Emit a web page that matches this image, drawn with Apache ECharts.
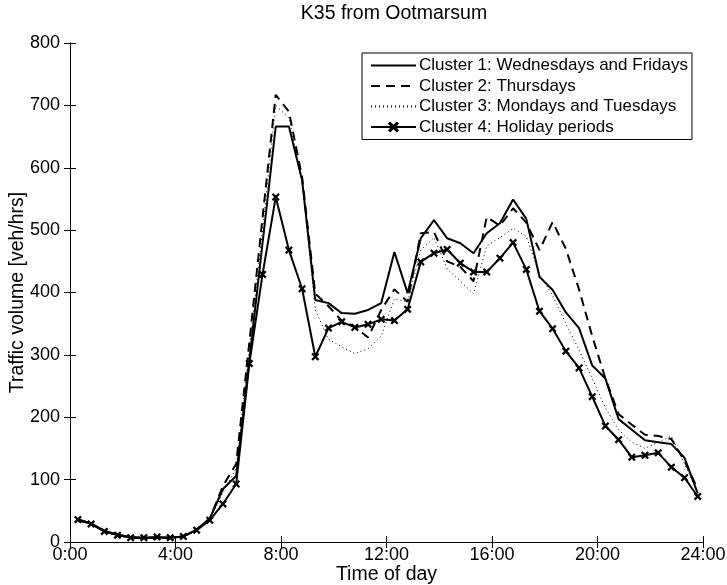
<!DOCTYPE html>
<html>
<head>
<meta charset="utf-8">
<script src="https://cdn.jsdelivr.net/npm/echarts@6/dist/echarts.min.js"></script>
<style>html,body{margin:0;padding:0;background:#fff}#chart{width:727px;height:585px}</style>
</head>
<body>
<div id="chart"></div>
<script>
// sample times (hours)
const times = [0.3,0.8,1.3,1.8,2.3,2.8,3.3,3.8,4.3,4.8,5.3,5.8,6.3,6.8,7.3,7.8,8.3,8.8,9.3,9.8,10.3,10.8,11.3,11.8,
  12.3,12.8,13.3,13.8,14.3,14.8,15.3,15.8,16.3,16.8,17.3,17.8,18.3,18.8,19.3,19.8,20.3,20.8,21.3,21.8,22.3,22.8,23.3,23.8];
const xTickLabels = ['0:00','4:00','8:00','12:00','16:00','20:00','24:00'];
const seriesNames = ['Cluster 1: Wednesdays and Fridays','Cluster 2: Thursdays','Cluster 3: Mondays and Tuesdays','Cluster 4: Holiday periods'];
const cluster1 = [36,30,18,12,8,7,7,7,9,20,38,85,106,292,479,666,666,580,388,383,367,366,372,383,
  465,399,487,516,487,479,463,495,511,549,518,425,404,368,343,283,262,197,180,163,160,157,135,78];
const cluster2 = [35,29,17,11,7,6,7,7,9,19,37,90,125,320,520,717,690,585,398,378,355,345,328,372,
  405,385,495,497,450,441,418,521,507,535,512,468,513,470,405,330,262,205,188,172,170,165,130,85];
const cluster3 = [34,28,16,10,7,6,6,6,8,18,36,80,118,310,500,700,680,578,372,325,313,302,310,330,
  390,385,468,488,438,418,398,475,488,503,490,430,395,350,308,262,215,180,160,150,160,170,125,80];
const cluster4 = [36,29,17,11,7,7,8,7,9,19,35,61,93,286,429,553,468,406,297,343,353,344,349,357,
  355,373,449,463,469,447,433,433,455,480,437,370,342,306,279,233,186,164,136,139,143,120,103,73];

const FONT = 'Liberation Sans';
const pair = arr => arr.map((v, i) => [times[i], v]);
const xMark = 'path://M0,2L2,0L5,3L8,0L10,2L7,5L10,8L8,10L5,7L2,10L0,8L3,5Z';

const axisCommon = {
  axisLine: {show: true, lineStyle: {color: '#000', width: 1}},
  axisTick: {show: true, inside: true, length: 6, lineStyle: {color: '#000'}},
  splitLine: {show: false}
};

const chart = echarts.init(document.getElementById('chart'), null, {renderer: 'canvas'});
chart.setOption({
  animation: false,
  backgroundColor: '#fff',
  title: {text: 'K35 from Ootmarsum', left: 389, textAlign: 'center', top: -1,
    textStyle: {fontFamily: FONT, fontSize: 19.5, fontWeight: 'normal', color: '#000'}},
  grid: {left: 70, right: 24, top: 43, bottom: 43, containLabel: false, outerBoundsMode: 'none'},
  legend: {
    orient: 'vertical', left: 362, top: 53,
    backgroundColor: '#fff', borderColor: '#000', borderWidth: 1,
    padding: [4, 4, 4, 8], itemGap: 3.5, itemWidth: 45, itemHeight: 14,
    textStyle: {fontFamily: FONT, fontSize: 17, color: '#000', padding: [0, 0, 0, -2]},
    data: [
      {name: seriesNames[0], itemStyle: {opacity: 0}},
      {name: seriesNames[1], itemStyle: {opacity: 0}},
      {name: seriesNames[2], itemStyle: {opacity: 0}},
      {name: seriesNames[3]}
    ]
  },
  xAxis: [
    Object.assign({type: 'value', min: 0, max: 24, interval: 4, position: 'bottom',
      name: 'Time of day', nameLocation: 'middle', nameGap: 23, nameMoveOverlap: false,
      nameTextStyle: {fontFamily: FONT, fontSize: 19.5, color: '#000'},
      axisLabel: {fontFamily: FONT, fontSize: 18, color: '#000', margin: 4,
        formatter: v => xTickLabels[Math.round(v / 4)]}}, axisCommon),
    Object.assign({type: 'value', min: 0, max: 24, interval: 4, position: 'top',
      axisLabel: {show: false}}, axisCommon)
  ],
  yAxis: [
    Object.assign({type: 'value', min: 0, max: 800, interval: 100, position: 'left',
      name: 'Traffic volume [veh/hrs]', nameLocation: 'middle', nameGap: 42, nameMoveOverlap: false,
      nameTextStyle: {fontFamily: FONT, fontSize: 19.5, color: '#000'},
      axisLabel: {fontFamily: FONT, fontSize: 18, color: '#000', margin: 10}}, axisCommon),
    Object.assign({type: 'value', min: 0, max: 800, interval: 100, position: 'right',
      axisLabel: {show: false}}, axisCommon)
  ],
  series: [
    {name: seriesNames[0], type: 'line', data: pair(cluster1), symbol: 'none',
      lineStyle: {color: '#000', width: 2, type: 'solid'}, itemStyle: {color: '#000'}},
    {name: seriesNames[1], type: 'line', data: pair(cluster2), symbol: 'none',
      lineStyle: {color: '#000', width: 2, type: [9, 6]}, itemStyle: {color: '#000'}},
    {name: seriesNames[2], type: 'line', data: pair(cluster3), symbol: 'none',
      lineStyle: {color: '#000', width: 1, type: [1, 3]}, itemStyle: {color: '#000'}},
    {name: seriesNames[3], type: 'line', data: pair(cluster4), symbol: xMark, symbolSize: 8,
      showAllSymbol: true,
      lineStyle: {color: '#000', width: 2, type: 'solid'}, itemStyle: {color: '#000'}}
  ]
});
</script>
</body>
</html>
